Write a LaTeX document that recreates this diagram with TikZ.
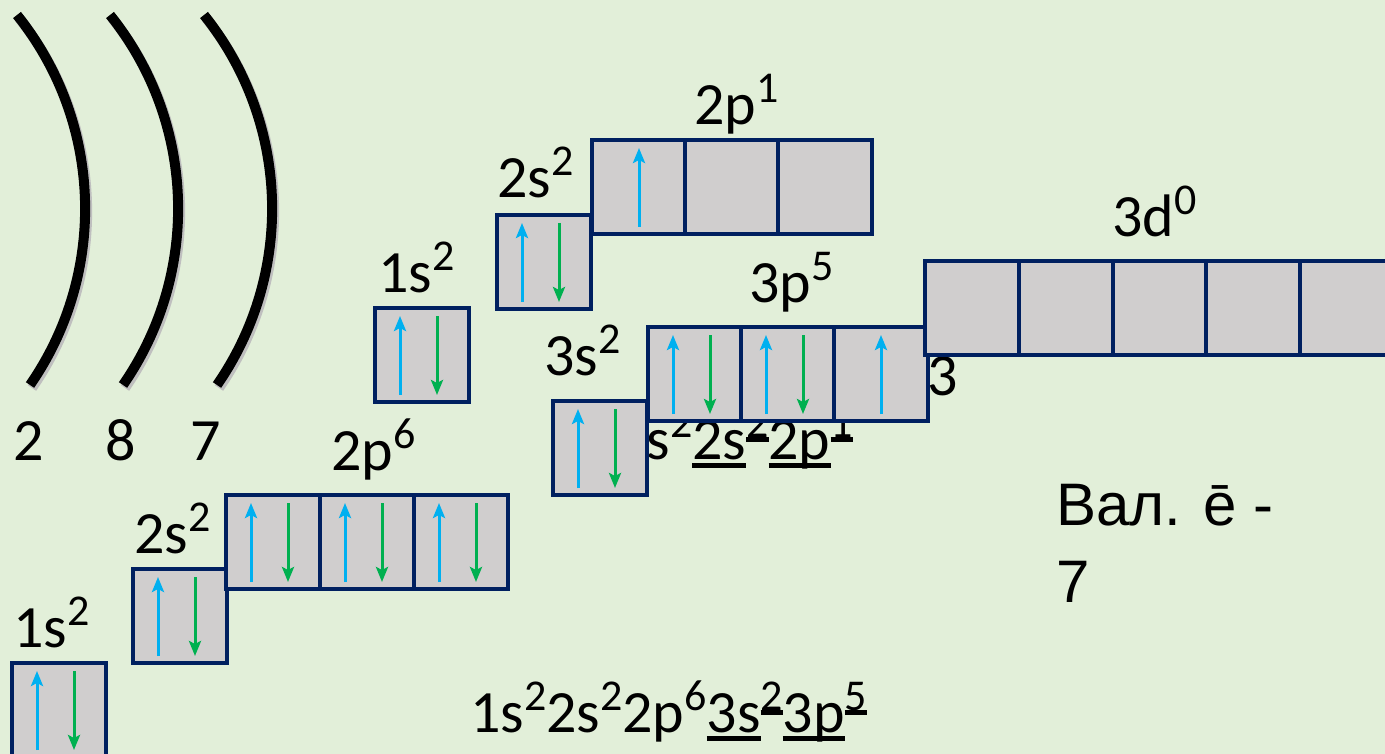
\documentclass[tikz,border=0pt]{standalone}
\usepackage{fontspec}
\setmainfont{Carlito}
\newfontfamily\arialfont{Liberation Sans}
\usepackage{tikz}
\usetikzlibrary{calc, positioning, arrows.meta}

\definecolor{bg}{HTML}{E2EFD9}
\definecolor{cellgray}{HTML}{D0CECE}
\definecolor{navy}{HTML}{002060}
\definecolor{spinblue}{HTML}{00B0F0}
\definecolor{spingreen}{HTML}{00B050}

\tikzset{
	cell/.style={draw=navy, fill=cellgray, line width=4pt, minimum size=94pt, inner sep=0pt, anchor=north west},
	spinup/.style={draw=spinblue, line width=3pt, -{Stealth[length=15pt, width=12pt, inset=3pt]}},
	spindown/.style={draw=spingreen, line width=3pt, -{Stealth[length=15pt, width=12pt, inset=3pt]}},
	lbl/.style={anchor=base west, inner sep=0pt, font=\fontsize{60}{72}\selectfont},
	shell/.style={line width=10pt}
}

% superscript and underline as in the slide
\newcommand\sps[1]{\raisebox{22pt}{\fontsize{44}{44}\selectfont #1}}
\newcommand\undl[2][-9pt]{\setbox0\hbox{#2}\rlap{\rule[#1]{\wd0}{5pt}}\box0}

% arrows in a cell
\newcommand\pairin[1]{%
	\draw[spinup] ($(#1.south west)+(27,-9)$) -- ($(#1.north west)+(27,10)$);
	\draw[spindown] ($(#1.north west)+(64,10)$) -- ($(#1.south west)+(64,-9)$);}
\newcommand\upin[1]{%
	\draw[spinup] ($(#1.south)+(0,-9)$) -- ($(#1.north)+(0,10)$);}

\begin{document}
\begin{tikzpicture}[x=1pt, y=-1pt]
		
		\path[use as bounding box, fill=bg] (0,0) rectangle (1385,754);
		\clip (0,0) rectangle (1385,754);
		
		% Shells
		\foreach \dx in {0,93,187}{
			\draw[shell, black!25, shift={(\dx+2,3)}] (17,15) .. controls (102.8,121.9) and (108,272.4) .. (30,385);
			\draw[shell, shift={(\dx,0)}] (17,15) .. controls (102.8,121.9) and (108,272.4) .. (30,385);
		}
		\node[lbl] (n2) at (13,460) {2};
		\node[lbl] (n8) at (105,460) {8};
		\node[lbl] (n7) at (190,460) {7};
		
		% Text under the cells
		\node[lbl, anchor=base east] (hid) at (853,459) {1s\sps{2}\undl{2s}\sps{\undl[-5pt]{2}}\undl{2p}\sps{\undl[-5pt]{1}}};
		\node[lbl] (three) at (927,395) {3};
		
		% Cells
		\foreach \name/\x/\y in {a1s/10/661, a2s/131/567, a2pA/224/493, a2pB/318/493, a2pC/412/493,
			b1s/373/306, b2s/495/213, b2pA/590/138, b2pB/683/138, b2pC/776/138,
			c3s/551/399, c3pA/646/325, c3pB/739/325, c3pC/832/325,
			c3dA/923/259, c3dB/1017/259, c3dC/1111/259, c3dD/1204/259, c3dE/1298/259}
		\node[cell] (\name) at (\x,\y) {};
		
		% Electrons
		\foreach \c in {a1s,a2s,a2pA,a2pB,a2pC,b1s,b2s,c3s,c3pA,c3pB}{
			\pairin{\c}
		}
		\upin{b2pA}
		\upin{c3pC}
		
		% Labels
		\node[lbl] (l1s) at (13,647) {1s\sps{2}};
		\node[lbl] (l2s) at (134,553) {2s\sps{2}};
		\node[lbl] (l2p) at (331,470) {2p\sps{6}};
		\node[lbl] (m1s) at (378,293) {1s\sps{2}};
		\node[lbl] (m2s) at (497,198) {2s\sps{2}};
		\node[lbl] (m2p) at (694,125) {2p\sps{1}};
		\node[lbl] (k3s) at (544,375) {3s\sps{2}};
		\node[lbl] (k3p) at (749,302) {3p\sps{5}};
		\node[lbl] (k3d) at (1112,237) {3d\sps{0}};
		
		\node[lbl] (conf) at (470,732) {1s\sps{2}2s\sps{2}2p\sps{6}\undl{3s}\sps{\undl[-5pt]{2}}\undl{3p}\sps{\undl[-5pt]{5}}};
		\node[lbl, align=left, font=\arialfont\fontsize{60}{77}\selectfont] (val) at (1056,602) {Вал. ē -\\7};
		
\end{tikzpicture}
\end{document}
